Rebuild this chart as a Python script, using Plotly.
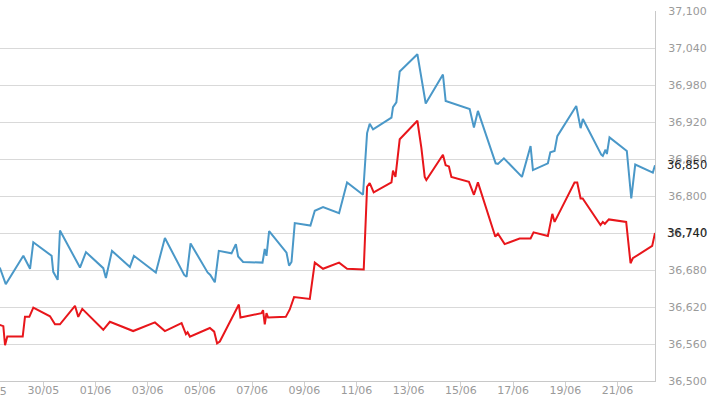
import plotly.graph_objects as go
import pandas as pd

blue_times = [
    "2024-05-28 08:00", "2024-05-28 13:30", "2024-05-29 05:40", "2024-05-29 11:50", "2024-05-29 14:50",
    "2024-05-30 07:40", "2024-05-30 09:10", "2024-05-30 13:15", "2024-05-30 15:20",
    "2024-05-31 07:15", "2024-05-31 09:45", "2024-05-31 15:15",
    "2024-06-01 07:10", "2024-06-01 09:35", "2024-06-01 11:45", "2024-06-01 15:10",
    "2024-06-02 07:40", "2024-06-02 11:20",
    "2024-06-03 07:30", "2024-06-03 15:50",
    "2024-06-04 09:35", "2024-06-04 11:45", "2024-06-04 15:25",
    "2024-06-05 07:05", "2024-06-05 09:35", "2024-06-05 13:45", "2024-06-05 17:25",
    "2024-06-06 05:05", "2024-06-06 09:05", "2024-06-06 11:10", "2024-06-06 15:45",
    "2024-06-07 09:35", "2024-06-07 11:40", "2024-06-07 13:15", "2024-06-07 15:40",
    "2024-06-08 07:40", "2024-06-08 10:00", "2024-06-08 12:15", "2024-06-08 15:15",
    "2024-06-09 05:40", "2024-06-09 09:40", "2024-06-09 17:15",
    "2024-06-10 08:00", "2024-06-10 15:20",
    "2024-06-11 06:00", "2024-06-11 09:45", "2024-06-11 12:10", "2024-06-11 15:15",
    "2024-06-12 08:10", "2024-06-12 09:35", "2024-06-12 12:40", "2024-06-12 15:45",
    "2024-06-13 08:00", "2024-06-13 12:15", "2024-06-13 15:40",
    "2024-06-14 07:30", "2024-06-14 10:00",
    "2024-06-15 08:05", "2024-06-15 12:00", "2024-06-15 15:40",
    "2024-06-16 08:00", "2024-06-16 10:05", "2024-06-16 15:35",
    "2024-06-17 08:10", "2024-06-17 16:05", "2024-06-17 18:15",
    "2024-06-18 08:00", "2024-06-18 10:15", "2024-06-18 14:10", "2024-06-18 16:40",
    "2024-06-19 10:05", "2024-06-19 14:05", "2024-06-19 16:10",
    "2024-06-20 09:05", "2024-06-20 10:30", "2024-06-20 13:00", "2024-06-20 14:15", "2024-06-20 16:40",
    "2024-06-21 08:35", "2024-06-21 12:40", "2024-06-21 16:20",
    "2024-06-22 08:30", "2024-06-22 10:30",
]
blue_values = [
    36684, 36657, 36703, 36682, 36725,
    36703, 36677, 36664, 36744,
    36694, 36684, 36709,
    36683, 36667, 36684, 36711,
    36685, 36703,
    36676, 36732,
    36672, 36669, 36723,
    36676, 36672, 36660, 36711,
    36707, 36722, 36702, 36693,
    36692, 36714, 36703, 36743,
    36708, 36687, 36693, 36756,
    36752, 36776, 36782,
    36772, 36822,
    36802, 36902, 36917, 36908,
    36927, 36944, 36952, 37002,
    37030, 36989, 36950,
    36997, 36954,
    36941, 36911, 36938,
    36853, 36852, 36861,
    36831, 36881, 36842,
    36853, 36871, 36873, 36897,
    36946, 36910, 36925,
    36867, 36865, 36875, 36868, 36895,
    36873, 36796, 36851,
    36838, 36850,
]

red_times = [
    "2024-05-28 08:00", "2024-05-28 11:15", "2024-05-28 12:50", "2024-05-28 14:55",
    "2024-05-29 05:05", "2024-05-29 07:10", "2024-05-29 11:10", "2024-05-29 14:50",
    "2024-05-30 06:10", "2024-05-30 10:45", "2024-05-30 15:20",
    "2024-05-31 05:10", "2024-05-31 08:10", "2024-05-31 11:50",
    "2024-06-01 07:10", "2024-06-01 13:15",
    "2024-06-02 10:40",
    "2024-06-03 06:40", "2024-06-03 15:50",
    "2024-06-04 07:10", "2024-06-04 11:10", "2024-06-04 12:40", "2024-06-04 14:50",
    "2024-06-05 09:10", "2024-06-05 13:10", "2024-06-05 15:50", "2024-06-05 18:20",
    "2024-06-06 09:40", "2024-06-06 11:50", "2024-06-06 13:20",
    "2024-06-07 08:40", "2024-06-07 10:05", "2024-06-07 11:40", "2024-06-07 13:15", "2024-06-07 14:45",
    "2024-06-08 07:00", "2024-06-08 10:40", "2024-06-08 14:35",
    "2024-06-09 05:05", "2024-06-09 09:40", "2024-06-09 17:15",
    "2024-06-10 08:00", "2024-06-10 15:20",
    "2024-06-11 06:40", "2024-06-11 09:45", "2024-06-11 12:10", "2024-06-11 15:50",
    "2024-06-12 08:10", "2024-06-12 09:35", "2024-06-12 11:50", "2024-06-12 15:45",
    "2024-06-13 08:00", "2024-06-13 11:40", "2024-06-13 14:45", "2024-06-13 16:15",
    "2024-06-14 07:30", "2024-06-14 10:00", "2024-06-14 13:00", "2024-06-14 15:15",
    "2024-06-15 07:25", "2024-06-15 12:00", "2024-06-15 15:40",
    "2024-06-16 07:40", "2024-06-16 10:05", "2024-06-16 16:15",
    "2024-06-17 06:00", "2024-06-17 16:05", "2024-06-17 18:50",
    "2024-06-18 08:00", "2024-06-18 12:05", "2024-06-18 14:10",
    "2024-06-19 08:30", "2024-06-19 11:00", "2024-06-19 14:05", "2024-06-19 16:00",
    "2024-06-20 08:25", "2024-06-20 10:30", "2024-06-20 12:25", "2024-06-20 16:05",
    "2024-06-21 08:00", "2024-06-21 12:00", "2024-06-21 14:05",
    "2024-06-22 07:55", "2024-06-22 10:30",
]
red_values = [
    36591, 36589, 36558, 36572,
    36572, 36604, 36604, 36619,
    36605, 36592, 36592,
    36622, 36604, 36617,
    36583, 36596,
    36581,
    36595, 36581,
    36594, 36576, 36579, 36572,
    36586, 36580, 36561, 36564,
    36615, 36624, 36603,
    36610, 36615, 36592, 36610, 36603,
    36604, 36616, 36636,
    36633, 36692, 36682,
    36692, 36682,
    36681, 36815, 36821, 36806,
    36822, 36841, 36831, 36892,
    36922, 36878, 36831, 36826,
    36867, 36850, 36848, 36831,
    36823, 36802, 36822,
    36734, 36739, 36722,
    36731, 36731, 36741,
    36735, 36771, 36758,
    36822, 36822, 36796, 36796,
    36753, 36758, 36755, 36762,
    36758, 36691, 36699,
    36719, 36740,
]

x_range = ["2024-05-28 08:12", "2024-06-22 10:30"]
y_range = [36500, 37100]
y_step = 60
tick_dates = pd.date_range("2024-05-28", "2024-06-21", freq="2D")
tick_labels = [d.strftime("%d/%m") for d in tick_dates]

BLUE = "#4a98c8"
RED = "#e8161b"
GRID = "#d9d9d9"
LABEL = "#9a9a9a"
FONT = "DejaVu Sans"

fig = go.Figure()
fig.add_trace(go.Scatter(x=pd.to_datetime(blue_times), y=blue_values, mode="lines",
                         line=dict(color=BLUE, width=2), hoverinfo="skip"))
fig.add_trace(go.Scatter(x=pd.to_datetime(red_times), y=red_values, mode="lines",
                         line=dict(color=RED, width=2), hoverinfo="skip"))

r0 = pd.Timestamp(x_range[0])
r1 = pd.Timestamp(x_range[1])
visible = [(d, l) for d, l in zip(tick_dates, tick_labels) if d >= r0]
hidden = [(d, l) for d, l in zip(tick_dates, tick_labels) if d < r0]

fig.update_layout(
    width=710, height=399,
    margin=dict(l=0, r=55, t=11, b=18, autoexpand=False),
    paper_bgcolor="white", plot_bgcolor="white",
    showlegend=False,
    font=dict(family=FONT, size=11, color=LABEL),
    xaxis=dict(
        type="date", range=x_range,
        tickvals=[d for d, _ in visible], ticktext=[l for _, l in visible],
        showgrid=False, showline=True, linecolor="#c8c8c8", linewidth=1,
        ticks="outside", ticklen=5, tickcolor="#d0d0d0",
        ticklabelstandoff=-6,
        tickfont=dict(family=FONT, size=11, color=LABEL),
        zeroline=False, fixedrange=True, automargin=False,
    ),
    yaxis=dict(
        side="right", range=y_range, dtick=y_step, tick0=y_range[0],
        tickformat=",d", showgrid=True, gridcolor=GRID, gridwidth=1,
        showline=True, linecolor="#c8c8c8", linewidth=1,
        ticks="", ticklabelstandoff=10,
        tickfont=dict(family=FONT, size=11, color=LABEL),
        zeroline=False, fixedrange=True, automargin=False,
    ),
)

span = (r1 - r0).total_seconds()
for d, l in hidden:
    fig.add_annotation(x=(d - r0).total_seconds() / span, xref="paper", y=0, yref="paper",
                       yshift=-10, text=l, showarrow=False, xanchor="center", yanchor="middle",
                       font=dict(family=FONT, size=11, color=LABEL))

for vals in (blue_values, red_values):
    fig.add_annotation(x=1, xref="paper", y=vals[-1], yref="y", xanchor="left", xshift=10,
                       text=f"{vals[-1]:,}", showarrow=False,
                       font=dict(family=FONT, size=11.5, color="#222222"))

fig.write_html("out.html", config={"displayModeBar": False},
               post_script="document.body.style.margin='0';document.body.style.overflow='hidden';")
